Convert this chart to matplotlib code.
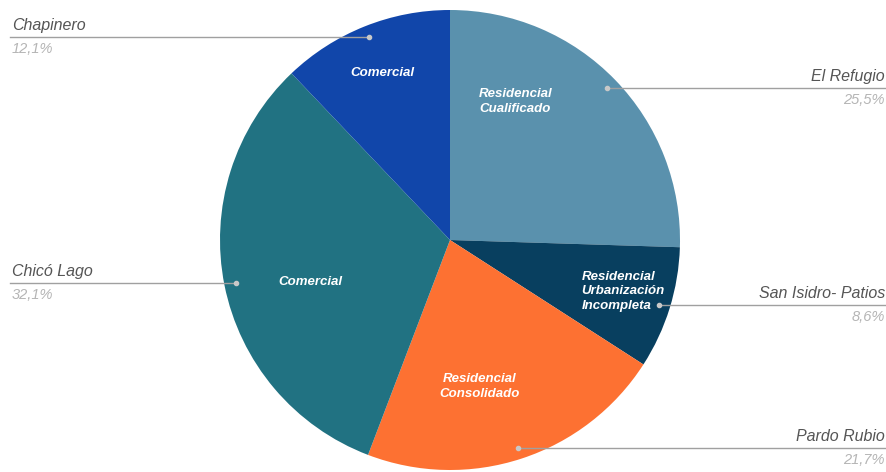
import numpy as np
import matplotlib.pyplot as plt

# barrios de Chapinero y su uso del suelo
barrios = ['El Refugio', 'San Isidro- Patios', 'Pardo Rubio', 'Chicó Lago', 'Chapinero']
porcentajes = [25.5, 8.6, 21.7, 32.1, 12.1]
pct_txt = ['25,5%', '8,6%', '21,7%', '32,1%', '12,1%']
usos = ['Residencial\nCualificado', 'Residencial\nUrbanización\nIncompleta',
        'Residencial\nConsolidado', 'Comercial', 'Comercial']
colores = ['#5a91ad', '#083f5f', '#fd7132', '#217282', '#1146aa']

W, H = 887, 472
fig = plt.figure(figsize=(W / 100, H / 100), dpi=100)
ax = fig.add_axes([0, 0, 1, 1])

cx, cy, R = 450, H - 240, 230
wedges, _ = ax.pie(porcentajes, colors=colores, startangle=90, counterclock=False,
                   center=(cx, cy), radius=R, frame=True,
                   wedgeprops=dict(linewidth=0))
ax.set_xlim(0, W)
ax.set_ylim(0, H)
ax.set_aspect('equal')
ax.axis('off')

# ajuste fino de las etiquetas internas (px) respecto a 0.62R en el angulo medio
r_in = [0.62, 0.78, 0.62, 0.62, 0.72]
off_in = [(-37, 39), (2, 2), (-15, -11), (0, -14), (-6, 13)]

for i, w in enumerate(wedges):
    ang = np.deg2rad((w.theta1 + w.theta2) / 2)
    # etiqueta interna
    tx = cx + r_in[i] * R * np.cos(ang) + off_in[i][0]
    ty = cy + r_in[i] * R * np.sin(ang) + off_in[i][1]
    ax.text(tx, ty, usos[i], color='white', fontsize=9.5, fontweight='bold',
            fontstyle='italic', ha='center', va='center', multialignment='left' if i == 1 else 'center',
            linespacing=1.3, family='Liberation Sans')
    # punto y linea guia
    px = cx + 0.95 * R * np.cos(ang)
    py = cy + 0.95 * R * np.sin(ang)
    ax.plot(px, py, 'o', ms=3, color='#c8c8c8', zorder=5)
    if px > cx:
        x_end, ha, xt = W - 1, 'right', W - 2
    else:
        x_end, ha, xt = 10, 'left', 12
    ax.plot([px, x_end], [py, py], color='#a0a0a0', lw=1, zorder=1)
    ax.text(xt, py + 4, barrios[i], color='#555555', fontsize=11.5, fontstyle='italic',
            ha=ha, va='bottom', family='Liberation Sans')
    ax.text(xt, py - 5, pct_txt[i], color='#b5b5b5', fontsize=10.5, fontstyle='italic',
            ha=ha, va='top', family='Liberation Sans')

fig.savefig('out.png', dpi=100, facecolor='white')
